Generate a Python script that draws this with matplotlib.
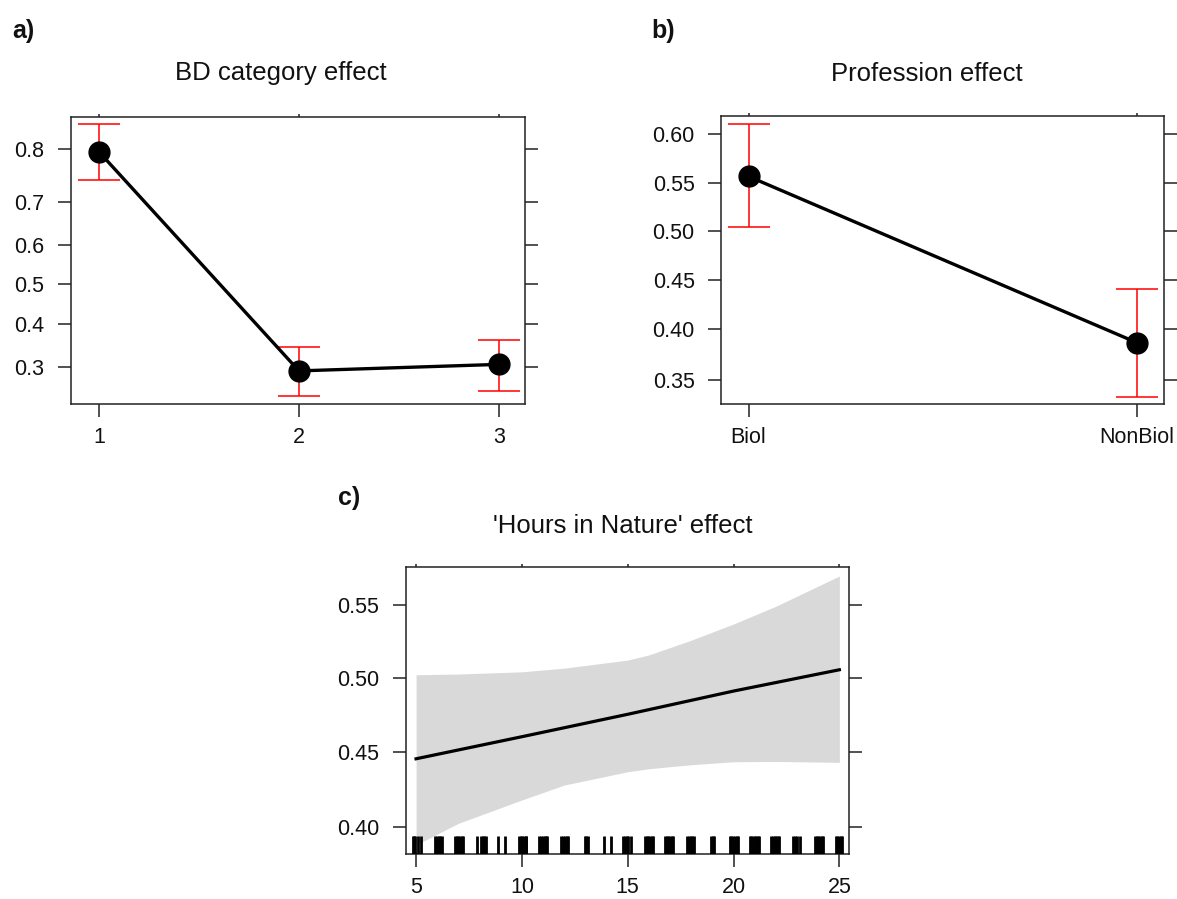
'''
Effect plots from a binomial model: BD category, profession and hours in nature.
Three panels on a logit probability scale, laid out like the R effects output.
'''

#==================================================================================================
# Import necessary libraries
#==================================================================================================
import matplotlib
matplotlib.use('Agg')
import matplotlib.pyplot as plt
from matplotlib.ticker import NullLocator, NullFormatter

plt.rcParams['font.family'] = ['Liberation Sans', 'DejaVu Sans']

#==================================================================================================
# Data
#==================================================================================================
# a) BD category effect
bd_categories = [1, 2, 3]
bd_fit = [0.796, 0.291, 0.305]
bd_lower = [0.745, 0.240, 0.251]
bd_upper = [0.838, 0.344, 0.361]
bd_yticks = [0.3, 0.4, 0.5, 0.6, 0.7, 0.8]
bd_ytick_labels = ['0.3', '0.4', '0.5', '0.6', '0.7', '0.8']

# b) Profession effect
prof_levels = ['Biol', 'NonBiol']
prof_fit = [0.557, 0.386]
prof_lower = [0.505, 0.334]
prof_upper = [0.610, 0.440]
prof_yticks = [0.35, 0.40, 0.45, 0.50, 0.55, 0.60]
prof_ytick_labels = ['0.35', '0.40', '0.45', '0.50', '0.55', '0.60']

# c) 'Hours in Nature' effect
hours_x = [5, 10, 15, 20, 25]
hours_fit = [0.4455, 0.4604, 0.4756, 0.4914, 0.5059]
band_x = [5, 7, 10, 12, 15, 16, 17, 18, 20, 22, 25]
band_upper = [0.5025, 0.5030, 0.5045, 0.5070, 0.5125, 0.5160, 0.5210, 0.5260, 0.5370, 0.5490, 0.5693]
band_lower = [0.3885, 0.4026, 0.4180, 0.4279, 0.4368, 0.4388, 0.4402, 0.4415, 0.4435, 0.4437, 0.4431]
hours_xticks = [5, 10, 15, 20, 25]
hours_yticks = [0.40, 0.45, 0.50, 0.55]
hours_ytick_labels = ['0.40', '0.45', '0.50', '0.55']

# observed hours (rug)
rug_hours = [
    4.84, 4.90, 4.96, 5.08, 5.25,
    5.90, 5.98, 6.06, 6.14, 6.21,
    6.84, 6.92, 7.00, 7.08, 7.16, 7.21,
    7.88, 8.09, 8.16, 8.23, 8.29,
    8.89, 9.18,
    9.86, 9.94, 10.02, 10.10, 10.18, 10.21,
    10.83, 10.91, 10.99, 11.07, 11.15, 11.20,
    11.87, 11.95, 12.03, 12.11, 12.18,
    12.97, 13.04, 13.11,
    13.90, 14.23,
    14.79, 14.87, 14.95, 15.01, 15.16,
    15.81, 15.89, 15.97, 16.05, 16.13, 16.21,
    16.76, 16.84, 16.92, 17.00, 17.08, 17.16,
    17.82, 17.90, 17.98, 18.06, 18.15,
    18.95, 19.02, 19.09,
    19.82, 19.90, 19.98, 20.06, 20.14, 20.19,
    20.76, 20.84, 20.92, 21.00, 21.08, 21.16, 21.19,
    21.78, 21.86, 21.94, 22.02, 22.10, 22.16,
    22.82, 22.90, 22.98, 23.12,
    23.84, 23.92, 24.00, 24.08, 24.16, 24.21,
    24.82, 24.90, 24.98, 25.06, 25.13,
]

TEXT_COLOR = '#111111'
FRAME_COLOR = '#222222'


#==================================================================================================
# Helper to style one panel like a lattice effect plot
#==================================================================================================
def style_panel(ax, xticks, xlabels, yticks, ylabels, xlim, ylim):
    """
    Logit y scale, boxed frame, long outer ticks on left/bottom/right and short ticks on top.
    """
    ax.set_yscale('logit')
    ax.set_xlim(*xlim)
    ax.set_ylim(*ylim)

    ax.set_yticks(yticks)
    ax.set_yticklabels(ylabels)
    ax.yaxis.set_minor_locator(NullLocator())
    ax.yaxis.set_minor_formatter(NullFormatter())
    ax.set_xticks(xticks)
    ax.set_xticklabels(xlabels)

    for spine in ax.spines.values():
        spine.set_linewidth(1.1)
        spine.set_color(FRAME_COLOR)

    ax.tick_params(axis='y', left=True, right=True, length=9.5, width=1.1,
                   color=FRAME_COLOR, pad=9.5, labelsize=15.5, labelcolor=TEXT_COLOR)
    ax.tick_params(axis='x', bottom=True, top=False, length=9.5, width=1.1,
                   color=FRAME_COLOR, pad=7, labelsize=15.5, labelcolor=TEXT_COLOR)

    # short ticks along the top edge
    top = ax.secondary_xaxis('top')
    top.set_xticks(xticks)
    top.set_xticklabels([])
    top.tick_params(length=2.5, width=1.1, color=FRAME_COLOR)
    top.spines['top'].set_visible(False)


def plot_factor_effect(ax, x, fit, lower, upper):
    """
    Red error bars, black connecting line and big black points.
    """
    yerr = [[f - lo for f, lo in zip(fit, lower)], [up - f for f, up in zip(fit, upper)]]
    ax.errorbar(x, fit, yerr=yerr, fmt='none', ecolor='red', elinewidth=1.1,
                capsize=15, capthick=1.1, zorder=2)
    ax.plot(x, fit, color='black', linewidth=2.4, zorder=3)
    ax.plot(x, fit, linestyle='none', marker='o', markersize=15, color='black', zorder=4)


#==================================================================================================
# Main function to organize the workflow
#==================================================================================================
def main():
    fig = plt.figure(figsize=(11.77, 8.99), dpi=100)

    # panel positions in figure fraction
    ax_a = fig.add_axes([0.0603, 0.5506, 0.3857, 0.3192])
    ax_b = fig.add_axes([0.6126, 0.5506, 0.3764, 0.3200])
    ax_c = fig.add_axes([0.3447, 0.0501, 0.3769, 0.3192])

    # a) BD category
    plot_factor_effect(ax_a, bd_categories, bd_fit, bd_lower, bd_upper)
    style_panel(ax_a, bd_categories, [str(c) for c in bd_categories],
                bd_yticks, bd_ytick_labels, (0.86, 3.13), (0.226, 0.848))

    # b) Profession
    prof_x = list(range(1, len(prof_levels) + 1))
    plot_factor_effect(ax_b, prof_x, prof_fit, prof_lower, prof_upper)
    style_panel(ax_b, prof_x, prof_levels,
                prof_yticks, prof_ytick_labels, (0.929, 2.069), (0.3276, 0.6176))

    # c) Hours in nature
    ax_c.fill_between(band_x, band_lower, band_upper, color='#d9d9d9', linewidth=0, zorder=1)
    ax_c.plot(hours_x, hours_fit, color='black', linewidth=2.3, zorder=3)
    ax_c.vlines(rug_hours, 0, 0.062, transform=ax_c.get_xaxis_transform(),
                color='black', linewidth=2.0, zorder=4)
    style_panel(ax_c, hours_xticks, [str(h) for h in hours_xticks],
                hours_yticks, hours_ytick_labels, (4.51, 25.47), (0.3827, 0.5753))

    # titles
    title_kw = dict(ha='center', va='baseline', fontsize=18.5, color=TEXT_COLOR)
    fig.text(0.2387, 0.911, 'BD category effect', **title_kw)
    fig.text(0.7872, 0.910, 'Profession effect', **title_kw)
    fig.text(0.5291, 0.4071, "'Hours in Nature' effect", **title_kw)

    # panel letters
    label_kw = dict(ha='left', va='baseline', fontsize=18, fontweight='bold', color=TEXT_COLOR)
    fig.text(0.0102, 0.9577, 'a)', **label_kw)
    fig.text(0.5531, 0.9577, 'b)', **label_kw)
    fig.text(0.2872, 0.4383, 'c)', **label_kw)

    fig.savefig('out.png', dpi=100)
    plt.close(fig)


#==================================================================================================
# Run the main function
#==================================================================================================
if __name__ == "__main__":
    main()
